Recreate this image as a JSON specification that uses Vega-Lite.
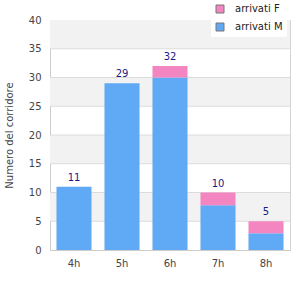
{
  "$schema": "https://vega.github.io/schema/vega-lite/v6.json",
  "autosize": "none",
  "width": 240,
  "height": 230,
  "padding": {"left": 50, "top": 20, "right": 10, "bottom": 50},
  "config": {
    "font": "DejaVu Sans",
    "view": {"stroke": "#d4d4d4"},
    "axis": {"labelFont": "DejaVu Sans", "titleFont": "DejaVu Sans", "labelColor": "#444444", "titleColor": "#444444", "labelFontSize": 10, "titleFontSize": 10, "titleFontWeight": "normal", "domainColor": "#cccccc", "gridColor": "#dcdcdc", "ticks": false},
    "axisY": {"values": [0,5,10,15,20,25,30,35,40], "labelOverlap": false, "labelPadding": 9, "titlePadding": 14, "grid": false}
  },
  "datasets": {
    "bars": [
      {"ora": "4h", "sesso": "arrivati M", "n": 11},
      {"ora": "4h", "sesso": "arrivati F", "n": 0},
      {"ora": "5h", "sesso": "arrivati M", "n": 29},
      {"ora": "5h", "sesso": "arrivati F", "n": 0},
      {"ora": "6h", "sesso": "arrivati M", "n": 30},
      {"ora": "6h", "sesso": "arrivati F", "n": 2},
      {"ora": "7h", "sesso": "arrivati M", "n": 7.8},
      {"ora": "7h", "sesso": "arrivati F", "n": 2.2},
      {"ora": "8h", "sesso": "arrivati M", "n": 2.9},
      {"ora": "8h", "sesso": "arrivati F", "n": 2.1}
    ],
    "bande": [
      {"da": 5, "a": 10},
      {"da": 15, "a": 20},
      {"da": 25, "a": 30},
      {"da": 35, "a": 40}
    ],
    "griglia": [
      {"v": 5}, {"v": 10}, {"v": 15}, {"v": 20}, {"v": 25}, {"v": 30}, {"v": 35}
    ]
  },
  "layer": [
    {
      "data": {"name": "bande"},
      "mark": {"type": "rect", "color": "#f2f2f2"},
      "encoding": {
        "y": {"field": "da", "type": "quantitative", "scale": {"domain": [0, 40]},
              "axis": {"title": "Numero del corridore", "values": [0,5,10,15,20,25,30,35,40], "labelOverlap": false}},
        "y2": {"field": "a"}
      }
    },
    {
      "data": {"name": "griglia"},
      "mark": {"type": "rule", "color": "#dcdcdc", "strokeWidth": 1},
      "encoding": {
        "y": {"field": "v", "type": "quantitative", "axis": {"title": "Numero del corridore", "values": [0,5,10,15,20,25,30,35,40], "labelOverlap": false}}
      }
    },
    {
      "data": {"name": "bars"},
      "mark": {"type": "bar"},
      "encoding": {
        "x": {"field": "ora", "type": "nominal", "sort": null, "scale": {"paddingInner": 0.27, "paddingOuter": 0.135},
              "axis": {"title": null, "labelAngle": 0, "labelPadding": 8, "grid": false}},
        "y": {"field": "n", "type": "quantitative", "stack": "zero", "axis": {"title": "Numero del corridore", "values": [0,5,10,15,20,25,30,35,40], "labelOverlap": false}},
        "color": {"field": "sesso", "type": "nominal",
                  "scale": {"domain": ["arrivati F", "arrivati M"], "range": ["#f386c0", "#60a9f5"]},
                  "legend": {"title": null, "orient": "none", "legendX": 161, "legendY": -20, "fillColor": "white", "padding": 4,
                             "symbolType": "square", "symbolSize": 64, "symbolStrokeColor": "#777777", "symbolStrokeWidth": 1,
                             "labelFont": "DejaVu Sans", "labelFontSize": 10, "labelColor": "#222222", "rowPadding": 6, "labelOffset": 10}},
        "order": {"field": "sesso", "sort": "descending"}
      }
    },
    {
      "data": {"name": "bars"},
      "transform": [{"aggregate": [{"op": "sum", "field": "n", "as": "tot"}], "groupby": ["ora"]}],
      "mark": {"type": "text", "baseline": "bottom", "dy": -4, "fontSize": 10, "color": "#1a1a8a"},
      "encoding": {
        "x": {"field": "ora", "type": "nominal", "sort": null},
        "y": {"field": "tot", "type": "quantitative", "axis": {"title": "Numero del corridore", "values": [0,5,10,15,20,25,30,35,40], "labelOverlap": false}},
        "text": {"field": "tot", "type": "quantitative", "format": "d"}
      }
    }
  ]
}
